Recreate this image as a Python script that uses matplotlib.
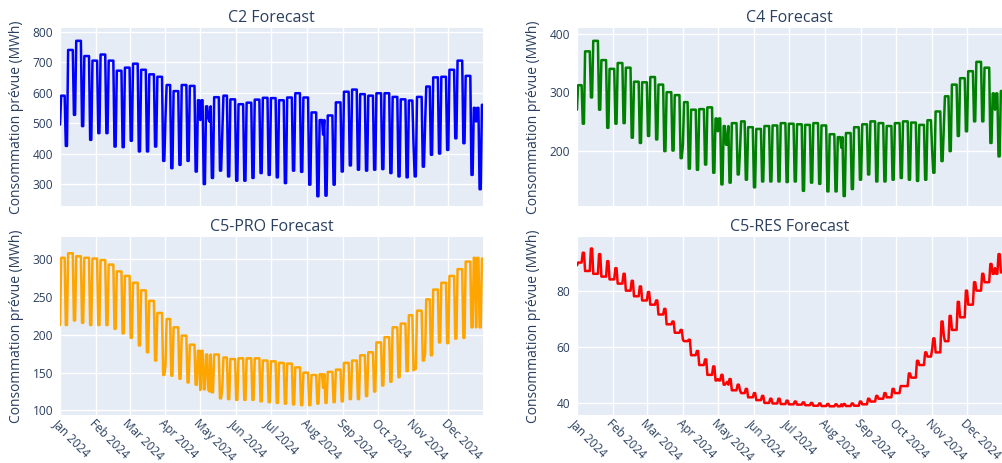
import matplotlib

matplotlib.use("Agg")
import matplotlib.dates as mdates
import matplotlib.pyplot as plt
import numpy as np
import pandas as pd

# daily forecast, 2024 ; one value per week (Mon-Fri level, Sat-Sun level)
START = "2024-01-01"
END = "2024-12-31"

C2_WORK = [590, 740, 770, 720, 705, 725, 705, 672, 682, 695, 675, 660, 652, 625,
           605, 625, 622, 575, 555, 585, 590, 578, 562, 567, 577, 583, 582, 575,
           584, 598, 584, 535, 510, 525, 568, 603, 610, 595, 590, 598, 598, 586,
           578, 574, 586, 620, 650, 652, 675, 705, 655, 550, 560]
C2_WEEKEND = [425, 527, 490, 445, 467, 467, 423, 421, 442, 407, 407, 423, 376, 352,
              363, 376, 341, 300, 320, 344, 325, 311, 311, 320, 336, 330, 322, 303,
              344, 340, 298, 260, 262, 298, 341, 361, 347, 344, 347, 349, 336, 325,
              322, 325, 357, 396, 400, 412, 450, 434, 330, 283, 283]

C4_WORK = [312, 370, 388, 355, 340, 350, 342, 318, 317, 326, 313, 300, 295, 283,
           270, 271, 274, 255, 242, 247, 250, 240, 237, 242, 243, 247, 246, 245,
           244, 247, 243, 228, 223, 230, 240, 245, 250, 247, 242, 247, 250, 248,
           244, 252, 267, 293, 313, 324, 336, 352, 342, 298, 302]
C4_WEEKEND = [246, 291, 270, 239, 246, 247, 222, 213, 225, 219, 199, 200, 187, 169,
              167, 176, 162, 142, 145, 159, 150, 137, 147, 147, 147, 146, 147, 131,
              145, 143, 130, 130, 122, 134, 150, 159, 147, 147, 150, 153, 150, 148,
              150, 162, 182, 199, 225, 233, 250, 250, 213, 190, 190]

C5_PRO_WORK = [302, 308, 304, 302, 301, 299, 293, 284, 278, 269, 259, 245, 229, 221,
               210, 199, 187, 179, 174, 174, 170, 168, 169, 169, 169, 166, 165, 163,
               162, 157, 150, 147, 148, 151, 154, 163, 166, 173, 177, 190, 197, 210,
               215, 226, 232, 247, 260, 269, 278, 287, 297, 302, 301]
C5_PRO_WEEKEND = [213, 219, 216, 213, 213, 213, 208, 202, 196, 186, 177, 166, 147, 146,
                  142, 137, 134, 128, 124, 116, 115, 114, 114, 114, 112, 111, 110, 109,
                  108, 107, 107, 109, 110, 111, 112, 115, 115, 119, 125, 133, 138, 144,
                  152, 155, 166, 173, 190, 189, 195, 196, 210, 210, 210]

C5_RES_WORK = [90, 87, 86, 85, 84, 82.5, 80, 78, 76.5, 75, 71.5, 68, 65, 62,
               57, 53.5, 50, 48, 46.5, 44.5, 43.5, 42, 41, 40, 39.8, 39.6, 39.5, 39.4,
               39.2, 39, 38.9, 38.8, 38.8, 38.9, 39, 39.5, 40.5, 41.5, 42, 43.5, 46, 49,
               53.5, 56.5, 58, 62, 66, 70.5, 75, 80, 83, 86, 86.5]
C5_RES_WEEKEND = [93.5, 95, 93, 90.5, 88, 86, 83.5, 81.5, 79.5, 76.5, 73.5, 69, 66, 62.5,
                  58.5, 55.5, 53, 50, 48.5, 46.5, 45, 43.5, 42.5, 41.5, 41.5, 40.8, 40.5, 40.2,
                  40, 39.8, 39.6, 39.5, 39.6, 39.8, 40.5, 41.5, 42.5, 43.5, 45, 46, 50.5, 55,
                  58, 63, 69, 71, 76, 80, 83, 86, 89.5, 93, 93]

# public holidays falling on a weekday
HOLIDAYS = ["2024-01-01", "2024-04-01", "2024-05-01", "2024-05-08", "2024-05-09",
            "2024-05-20", "2024-08-15", "2024-11-01", "2024-11-11", "2024-12-25"]
C2_HOLIDAY = [495, 520, 510, 515, 505, 470, 462, 430, 500, 505]
C4_HOLIDAY = [270, 210, 233, 210, 210, 200, 205, 200, 240, 270]
C5_PRO_HOLIDAY = [213, 160, 127, 127, 125, 130, 130, 153, 175, 210]
C5_RES_HOLIDAY = [89, 62.5, 48.5, 47, 47.5, 44.5, 39.5, 59, 64, 88]

SERIES = [
    ("C2 Forecast", C2_WORK, C2_WEEKEND, C2_HOLIDAY, "blue", (228, 812), [300, 400, 500, 600, 700, 800]),
    ("C4 Forecast", C4_WORK, C4_WEEKEND, C4_HOLIDAY, "green", (105, 410), [200, 300, 400]),
    ("C5-PRO Forecast", C5_PRO_WORK, C5_PRO_WEEKEND, C5_PRO_HOLIDAY, "orange", (94, 329.5),
     [100, 150, 200, 250, 300]),
    ("C5-RES Forecast", C5_RES_WORK, C5_RES_WEEKEND, C5_RES_HOLIDAY, "red", (35.7, 99.1), [40, 60, 80]),
]

TEXT_COLOR = "#2a3f5f"
PLOT_BG = "#E5ECF6"
FONT = "Open Sans"


def build_daily(work, weekend, holiday_values) -> pd.Series:
    dates = pd.date_range(START, END, freq="D")
    week = np.arange(len(dates)) // 7
    is_workday = dates.dayofweek < 5
    values = np.where(is_workday, np.asarray(work, float)[week], np.asarray(weekend, float)[week])
    series = pd.Series(values, index=dates)
    series.loc[pd.to_datetime(HOLIDAYS)] = holiday_values
    return series


def style_axis(axis, ylim, yticks, show_xlabels: bool) -> None:
    axis.set_facecolor(PLOT_BG)
    for spine in axis.spines.values():
        spine.set_visible(False)
    axis.grid(True, color="white", linewidth=1.0)
    axis.set_axisbelow(True)
    axis.set_xlim(pd.Timestamp(START), pd.Timestamp(END))
    axis.set_ylim(*ylim)
    axis.set_yticks(yticks)
    axis.xaxis.set_major_locator(mdates.MonthLocator())
    axis.xaxis.set_major_formatter(mdates.DateFormatter("%b %Y"))
    axis.tick_params(axis="y", length=0, colors=TEXT_COLOR, labelsize=8.6, pad=5)
    axis.tick_params(axis="x", length=0, colors=TEXT_COLOR, labelsize=8.5, pad=1.5)
    for label in axis.get_yticklabels():
        label.set_fontfamily(FONT)
    if show_xlabels:
        for label in axis.get_xticklabels():
            label.set_rotation(-45)
            label.set_ha("left")
            label.set_va("top")
            label.set_rotation_mode("anchor")
            label.set_fontfamily(FONT)
    else:
        axis.tick_params(labelbottom=False)
    axis.set_ylabel("Consommation prévue (MWh)", color=TEXT_COLOR, fontsize=10, fontfamily=FONT)
    axis.yaxis.set_label_coords(-0.084, 0.5)


def main() -> None:
    figure = plt.figure(figsize=(10.02, 4.63), dpi=100)
    positions = [
        [0.0599, 0.5551, 0.4222, 0.3844],
        [0.5758, 0.5551, 0.4242, 0.3844],
        [0.0599, 0.1037, 0.4222, 0.3844],
        [0.5758, 0.1037, 0.4242, 0.3844],
    ]
    for index, (title, work, weekend, holidays, color, ylim, yticks) in enumerate(SERIES):
        axis = figure.add_axes(positions[index])
        daily = build_daily(work, weekend, holidays)
        axis.plot(daily.index, daily.values, color=color, linewidth=1.8,
                  solid_joinstyle="round", solid_capstyle="round")
        style_axis(axis, ylim, yticks, show_xlabels=index >= 2)
        axis.set_title(title, color=TEXT_COLOR, fontsize=11.5, fontfamily=FONT, pad=4)
    figure.savefig("out.png", dpi=100)
    plt.close(figure)


if __name__ == "__main__":
    main()
